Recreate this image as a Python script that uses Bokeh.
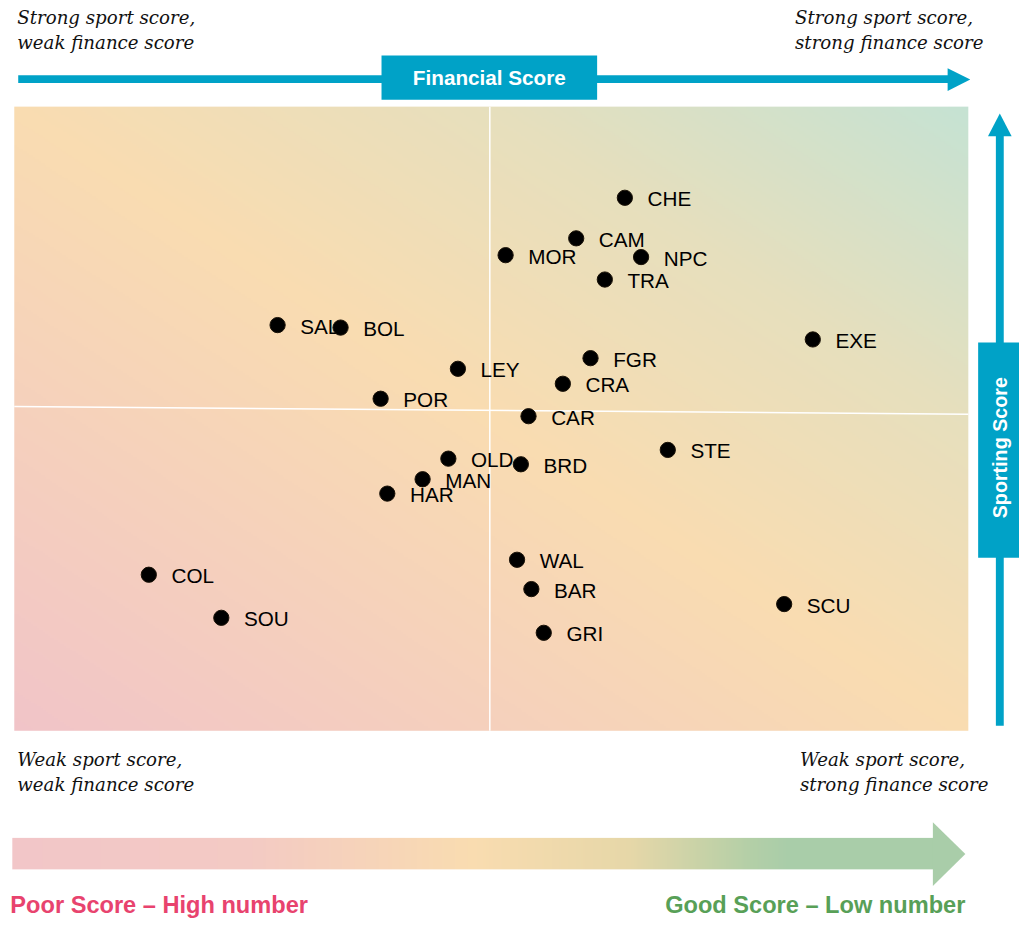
import numpy as np
from bokeh.plotting import figure
from bokeh.models import Range1d, ColumnDataSource
from bokeh.core.properties import value
from bokeh.embed import file_html
from bokeh.resources import INLINE

# ---------------- data ----------------
clubs = ["CHE", "CAM", "MOR", "NPC", "TRA", "SAL", "BOL", "EXE", "FGR", "LEY", "CRA", "POR",
         "CAR", "STE", "OLD", "BRD", "MAN", "HAR", "WAL", "BAR", "GRI", "COL", "SOU", "SCU"]
# low number = good score (right / top)
financial_score = [3.60, 4.11, 4.85, 3.43, 3.81, 7.24, 6.58, 1.63, 3.96, 5.35, 4.25, 6.16,
                   4.61, 3.15, 5.45, 4.69, 5.72, 6.09, 4.73, 4.58, 4.45, 8.59, 7.83, 1.93]
sporting_score = [1.46, 2.11, 2.38, 2.41, 2.77, 3.50, 3.54, 3.73, 4.03, 4.20, 4.44, 4.68,
                  4.96, 5.50, 5.64, 5.73, 5.97, 6.20, 7.26, 7.73, 8.43, 7.50, 8.19, 7.97]
FIN_WORST, FIN_BEST = 10.0, 0.0
SPORT_BEST, SPORT_WORST = 0.0, 10.0

corner_texts = [["Strong sport score,", "weak finance score"],
                ["Strong sport score,", "strong finance score"],
                ["Weak sport score,", "weak finance score"],
                ["Weak sport score,", "strong finance score"]]
x_title = "Financial Score"
y_title = "Sporting Score"
poor_text = "Poor Score \u2013 High number"
good_text = "Good Score \u2013 Low number"

# ---------------- layout (reference pixel space) ----------------
REF_W, REF_H = 1035, 934
W, H = 1019, 918
SF = W / REF_W
PL, PR, PT, PB = 14, 983, 108, 743

def fx(px):
    return FIN_WORST + (px - PL) / (PR - PL) * (FIN_BEST - FIN_WORST)

def sy(py):
    return SPORT_BEST + (py - PT) / (PB - PT) * (SPORT_WORST - SPORT_BEST)

def U(py):
    return REF_H - py

def fs(px):
    return f"{px * SF:.1f}px"

BLUE = "#00a2c7"

p = figure(width=W, height=H,
           x_range=Range1d(fx(0), fx(REF_W)), y_range=Range1d(sy(REF_H), sy(0)),
           x_axis_location=None, y_axis_location=None,
           output_backend="svg", toolbar_location=None, min_border=0)
p.extra_x_ranges = {"px": Range1d(0, REF_W)}
p.extra_y_ranges = {"py": Range1d(0, REF_H)}
p.outline_line_color = None
p.grid.visible = False
p.background_fill_color = "white"
p.border_fill_color = "white"
kw = dict(x_range_name="px", y_range_name="py")


def hex2rgb(h):
    h = h.lstrip("#")
    return [int(h[i:i + 2], 16) for i in (0, 2, 4)]


def make_rgba(t, stops, colors):
    rgb = np.array([hex2rgb(c) for c in colors], dtype=float)
    img = np.empty(t.shape, dtype=np.uint32)
    view = img.view(dtype=np.uint8).reshape(t.shape + (4,))
    for k in range(3):
        view[..., k] = np.clip(np.round(np.interp(t, stops, rgb[:, k])), 0, 255).astype(np.uint8)
    view[..., 3] = 255
    return img

# ---- plot area diagonal gradient ----
gw, gh = 485, 318
u = (np.arange(gw) + 0.5) / gw
v = (np.arange(gh) + 0.5) / gh
t = 0.5 * (u[None, :] + v[:, None])
bg = make_rgba(t, [0.0, 0.5, 0.75, 1.0], ["#f1c4c8", "#f9dcb1", "#e6dfbd", "#c5e2d3"])
p.image_rgba(image=[bg], x=PL, y=U(PB), dw=PR - PL, dh=PB - PT, **kw)

# quadrant dividers
p.segment(x0=[497, PL], y0=[U(PT), U(413)], x1=[497, PR], y1=[U(PB), U(421)],
          line_color="white", line_width=1.5, **kw)

# ---- top arrow (Financial Score) ----
p.quad(left=[18], right=[963], bottom=[U(84)], top=[U(76)], fill_color=BLUE, line_color=None, **kw)
p.patch([962, 962, 985], [U(69), U(92), U(80.5)], fill_color=BLUE, line_color=None, **kw)
p.quad(left=[387], right=[606], bottom=[U(101)], top=[U(56)], fill_color=BLUE, line_color=None, **kw)
p.text(x=[496.5], y=[U(78.5)], text=[x_title], text_align="center", text_baseline="middle",
       text_color="white", text_font=value("Liberation Sans"), text_font_style="bold",
       text_font_size=fs(21), **kw)

# ---- right arrow (Sporting Score) ----
p.quad(left=[1011], right=[1019], bottom=[U(738)], top=[U(137)], fill_color=BLUE, line_color=None, **kw)
p.patch([1003, 1027, 1015], [U(138), U(138), U(115)], fill_color=BLUE, line_color=None, **kw)
p.quad(left=[993], right=[1035], bottom=[U(567)], top=[U(348)], fill_color=BLUE, line_color=None, **kw)
p.text(x=[1015], y=[U(455)], text=[y_title], angle=np.pi / 2, text_align="center",
       text_baseline="middle", text_color="white", text_font=value("Liberation Sans"),
       text_font_style="bold", text_font_size=fs(20), **kw)

# ---- corner texts ----
corner_pos = [(17, 17), (807, 17), (17, 772), (812, 772)]
for (cx, cy), lines in zip(corner_pos, corner_texts):
    p.text(x=[cx, cx], y=[U(cy), U(cy + 26)], text=lines, text_align="left",
           text_baseline="middle", text_color="#111111",
           text_font=value("DejaVu Serif"), text_font_style="italic",
           text_font_size=fs(18.5), **kw)

# ---- bottom gradient arrow ----
bx = np.arange(12, 948) + 0.5
bar = make_rgba(bx[None, :], [12, 250, 480, 640, 760, 800, 948],
                ["#f2c6c8", "#f3cac4", "#f9dcb0", "#e6d7a8", "#b4cfa7", "#a9cda9", "#a9cda9"])
p.image_rgba(image=[bar], x=12, y=U(884), dw=936, dh=32, **kw)
p.patch([947, 947, 980], [U(836), U(901), U(868.5)], fill_color="#a9cda9", line_color=None, **kw)

p.text(x=[10], y=[U(920)], text=[poor_text], text_align="left", text_baseline="middle",
       text_color="#e8436e", text_font=value("Liberation Sans"), text_font_style="bold",
       text_font_size=fs(24), **kw)
p.text(x=[980], y=[U(920)], text=[good_text], text_align="right", text_baseline="middle",
       text_color="#58a057", text_font=value("Liberation Sans"), text_font_style="bold",
       text_font_size=fs(24), **kw)

# ---- data points ----
src = ColumnDataSource(dict(fin=financial_score, sport=sporting_score, club=clubs))
p.text(x="fin", y="sport", text="club", source=src, x_offset=23 * SF, y_offset=1,
       text_baseline="middle", text_align="left", text_color="black",
       text_font=value("Liberation Sans"), text_font_size=fs(21))
p.scatter(x="fin", y="sport", source=src, size=15.5 * SF, fill_color="black",
          line_color="#1a1208", line_width=1)

open("out.html", "w").write(file_html(p, INLINE))
